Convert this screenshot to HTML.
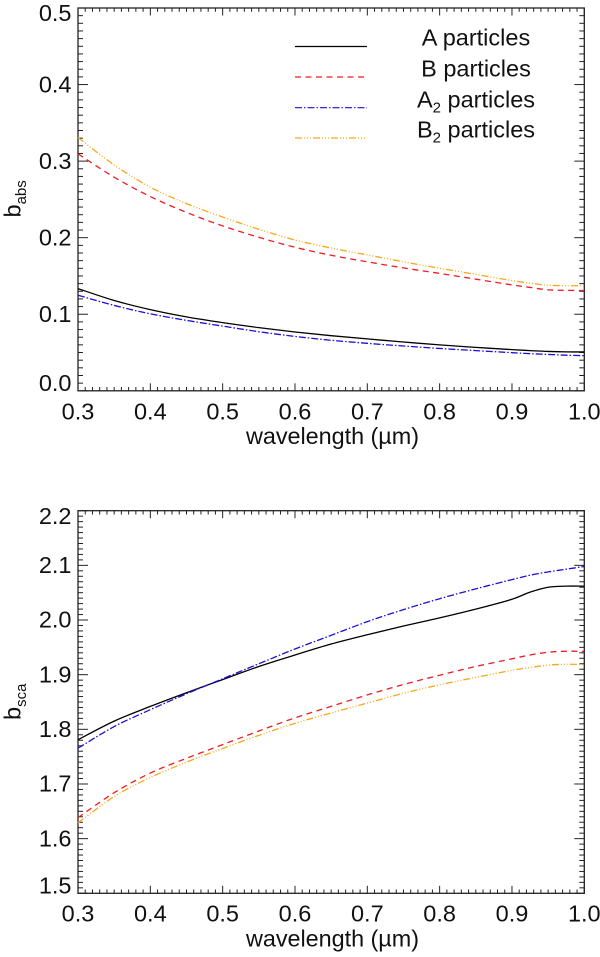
<!DOCTYPE html>
<html lang="en">
<head>
<meta charset="utf-8">
<title>Absorption and scattering coefficients</title>
<style>
html,body{margin:0;padding:0;background:#fff;width:600px;height:957px;overflow:hidden}
svg{display:block}
text{font-family:"Liberation Sans",Arial,sans-serif;fill:#111}
</style>
</head>
<body>
<svg id="chart" width="600" height="957" viewBox="0 0 600 957" xmlns="http://www.w3.org/2000/svg">
  <rect width="600" height="957" fill="#fff"/>
  <g id="panel-top"></g>
  <g id="panel-bottom"></g>

  <g>
    <text x="332.5" y="444" font-size="23.4" text-anchor="middle" textLength="173" lengthAdjust="spacing">wavelength (µm)</text>
  </g>
  <g>
    <text x="332.5" y="946.7" font-size="23.4" text-anchor="middle" textLength="173" lengthAdjust="spacing">wavelength (µm)</text>
  </g>
  <text transform="translate(20.5 217.5) rotate(-90)" font-size="23.5">b<tspan font-size="15" dy="5.5">abs</tspan></text>
  <text transform="translate(20.5 720) rotate(-90)" font-size="23.5">b<tspan font-size="15" dy="5.5">sca</tspan></text>

  <g>
    <line x1="295" x2="367" y1="46.5" y2="46.5" stroke="#000" stroke-width="1.2"/>
    <line x1="295" x2="367" y1="77" y2="77" stroke="#ee1c25" stroke-width="1.2" stroke-dasharray="6 4.5"/>
    <line x1="295" x2="367" y1="107.7" y2="107.7" stroke="#1a10d8" stroke-width="1.2" stroke-dasharray="7 2 1.5 2"/>
    <line x1="295" x2="367" y1="138" y2="138" stroke="#f5a81c" stroke-width="1.2" stroke-dasharray="7 2 1 2 1 2 1 2"/>
    <text x="476" y="45.7" font-size="23.5" text-anchor="middle">A particles</text>
    <text x="476" y="76.7" font-size="23.5" text-anchor="middle">B particles</text>
    <text x="476" y="107.7" font-size="23.5" text-anchor="middle">A<tspan font-size="15" dy="5">2</tspan><tspan dy="-5"> particles</tspan></text>
    <text x="476" y="137.7" font-size="23.5" text-anchor="middle">B<tspan font-size="15" dy="5">2</tspan><tspan dy="-5"> particles</tspan></text>
  </g>
</svg>
<script>
const wavelengths = [0.3,0.35,0.4,0.45,0.5,0.55,0.6,0.65,0.7,0.75,0.8,0.85,0.9,0.925,0.95,0.975,1.0];

const absA  = [0.1335,0.1180,0.1060,0.0965,0.0890,0.0825,0.0768,0.0720,0.0678,0.0637,0.0600,0.0567,0.0538,0.0525,0.0514,0.0508,0.0508];
const absB  = [0.3095,0.2790,0.2537,0.2330,0.2154,0.2005,0.1875,0.1770,0.1685,0.1605,0.1533,0.1458,0.1383,0.1350,0.1318,0.1312,0.1310];
const absA2 = [0.1248,0.1115,0.1005,0.0920,0.0845,0.0772,0.0710,0.0660,0.0620,0.0585,0.0553,0.0525,0.0498,0.0485,0.0475,0.0465,0.0459];
const absB2 = [0.3308,0.2950,0.2660,0.2445,0.2270,0.2110,0.1970,0.1865,0.1775,0.1685,0.1601,0.1520,0.1440,0.1405,0.1380,0.1372,0.1374];

const scaA  = [1.781,1.815,1.842,1.867,1.891,1.915,1.936,1.956,1.973,1.989,2.004,2.020,2.038,2.051,2.060,2.062,2.062];
const scaB  = [1.6385,1.684,1.720,1.747,1.772,1.797,1.821,1.842,1.863,1.882,1.899,1.915,1.929,1.936,1.941,1.943,1.9425];
const scaA2 = [1.7655,1.805,1.836,1.865,1.8925,1.920,1.947,1.972,1.997,2.019,2.039,2.057,2.074,2.082,2.088,2.093,2.098];
const scaB2 = [1.629,1.677,1.712,1.740,1.765,1.789,1.811,1.830,1.848,1.866,1.8815,1.895,1.908,1.913,1.9175,1.919,1.9185];

const xTickLabels = ['0.3','0.4','0.5','0.6','0.7','0.8','0.9','1.0'];
const absTickLabels = ['0.0','0.1','0.2','0.3','0.4','0.5'];
const scaTickLabels = ['1.5','1.6','1.7','1.8','1.9','2.0','2.1','2.2'];

const NS = 'http://www.w3.org/2000/svg';
const AXIS = '#222';
const LEFT = 78, RIGHT = 584.3;
const xScale = v => LEFT + (v - 0.3) / 0.7 * (RIGHT - LEFT);

function makeLine(parent, x1, y1, x2, y2, w) {
  const l = document.createElementNS(NS, 'line');
  l.setAttribute('x1', x1);
  l.setAttribute('y1', y1);
  l.setAttribute('x2', x2);
  l.setAttribute('y2', y2);
  l.setAttribute('stroke', AXIS);
  l.setAttribute('stroke-width', w);
  parent.appendChild(l);
  return l;
}

function makeLabel(parent, x, y, txt, anchor) {
  const t = document.createElementNS(NS, 'text');
  t.setAttribute('x', x);
  t.setAttribute('y', y);
  t.setAttribute('font-size', '23.5');
  t.setAttribute('text-anchor', anchor);
  t.textContent = txt;
  parent.appendChild(t);
  return t;
}

function drawAxes(g, top, bottom, yMin, yMax, yLabels, xBase) {
  const yScale = v => bottom - (v - yMin) / (yMax - yMin) * (bottom - top);

  const frame = document.createElementNS(NS, 'rect');
  
  
  frame.setAttribute('x', LEFT);
  frame.setAttribute('y', top);
  frame.setAttribute('width', RIGHT - LEFT);
  frame.setAttribute('height', bottom - top);
  frame.setAttribute('fill', 'none');
  frame.setAttribute('stroke', AXIS);
  frame.setAttribute('stroke-width', '1.3');
  g.appendChild(frame);

  const xN = (xTickLabels.length - 1) * 10;
  for (let i = 0; i <= xN; i++) {
    const x = LEFT + i / xN * (RIGHT - LEFT);
    const len = i % 10 === 0 ? 7.5 : 3.8;
    const tb = makeLine(g, x, bottom, x, bottom - len, 1);
    
    
    const tt = makeLine(g, x, top, x, top + len, 1);
    
    
  }

  const yN = (yLabels.length - 1) * 10;
  for (let i = 0; i <= yN; i++) {
    const y = bottom - i / yN * (bottom - top);
    const len = i % 10 === 0 ? 10 : 5;
    const tl = makeLine(g, LEFT, y, LEFT + len, y, 1);
    
    
    const tr = makeLine(g, RIGHT, y, RIGHT - len, y, 1);
    
    
  }

  xTickLabels.forEach(s => {
    const t = makeLabel(g, xScale(parseFloat(s)), xBase, s, 'middle');
    
    
  });

  yLabels.forEach(s => {
    const y = yScale(parseFloat(s));
    const base = Math.min(Math.max(y + 7.7, top + 13.2), bottom);
    const t = makeLabel(g, 71.5, base, s, 'end');
    
    
  });

  return yScale;
}

function drawSeries(g, values, yScale, color, dash, name) {
  const pts = values.map((v, i) => [xScale(wavelengths[i]), yScale(v)]);
  let d = 'M' + pts[0][0].toFixed(2) + ' ' + pts[0][1].toFixed(2);
  for (let i = 0; i < pts.length - 1; i++) {
    const p0 = pts[Math.max(i - 1, 0)], p1 = pts[i], p2 = pts[i + 1], p3 = pts[Math.min(i + 2, pts.length - 1)];
    const c1x = p1[0] + (p2[0] - p0[0]) / 6, c1y = p1[1] + (p2[1] - p0[1]) / 6;
    const c2x = p2[0] - (p3[0] - p1[0]) / 6, c2y = p2[1] - (p3[1] - p1[1]) / 6;
    d += 'C' + c1x.toFixed(2) + ' ' + c1y.toFixed(2) + ' ' + c2x.toFixed(2) + ' ' + c2y.toFixed(2) + ' ' + p2[0].toFixed(2) + ' ' + p2[1].toFixed(2);
  }
  const p = document.createElementNS(NS, 'path');
  
  
  p.setAttribute('d', d);
  p.setAttribute('fill', 'none');
  p.setAttribute('stroke', color);
  p.setAttribute('stroke-width', '1.3');
  if (dash) p.setAttribute('stroke-dasharray', dash);
  g.appendChild(p);
}

const DASH_B = '6 4.5', DASH_A2 = '7 2 1.5 2', DASH_B2 = '7 2 1 2 1 2 1 2';

const gTop = document.getElementById('panel-top');
const yTop = drawAxes(gTop, 8, 390.8, 0, 0.5, absTickLabels, 419.3);
drawSeries(gTop, absB2, yTop, '#f5a81c', DASH_B2, 'series-abs-b2');
drawSeries(gTop, absB, yTop, '#ee1c25', DASH_B, 'series-abs-b');
drawSeries(gTop, absA, yTop, '#000', null, 'series-abs-a');
drawSeries(gTop, absA2, yTop, '#1a10d8', DASH_A2, 'series-abs-a2');

const gBot = document.getElementById('panel-bottom');
const yBot = drawAxes(gBot, 510.7, 893.3, 1.5, 2.2, scaTickLabels, 921.7);
drawSeries(gBot, scaB2, yBot, '#f5a81c', DASH_B2, 'series-sca-b2');
drawSeries(gBot, scaB, yBot, '#ee1c25', DASH_B, 'series-sca-b');
drawSeries(gBot, scaA, yBot, '#000', null, 'series-sca-a');
drawSeries(gBot, scaA2, yBot, '#1a10d8', DASH_A2, 'series-sca-a2');
</script>
</body>
</html>
